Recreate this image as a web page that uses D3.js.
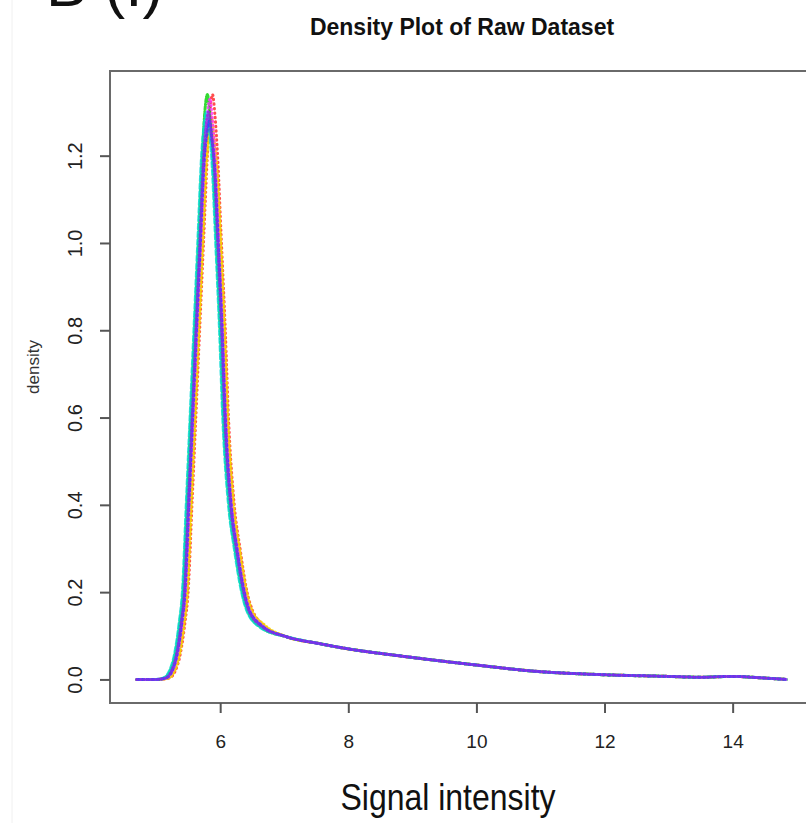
<!DOCTYPE html>
<html>
<head>
<meta charset="utf-8">
<script src="https://cdn.jsdelivr.net/npm/d3@7"></script>
<style>
  html, body { margin: 0; padding: 0; background: #fff; }
  svg { display: block; }
  text { font-family: "Liberation Sans", Arial, sans-serif; }
</style>
</head>
<body>
<svg id="chart" width="806" height="823"></svg>
<script>
// ---- data ----
const xTicks = [6, 8, 10, 12, 14];
const yTicks = [0.0, 0.2, 0.4, 0.6, 0.8, 1.0, 1.2];
const yTickLabels = ["0.0", "0.2", "0.4", "0.6", "0.8", "1.0", "1.2"];

const seriesNames = ["s1", "s2", "s3", "s4", "s5", "s6", "s7", "s8"];
const seriesColors = ["#ff2020", "#ff9900", "#f2e000", "#00d000", "#00d8d8", "#ff30ff", "#2040ff", "#8a2be2"];
const seriesDash = ["0.5,4", "3,3", "0.5,3", "3,2,0.5,2", "5,3", "0.5,3.5", "2,3", "0.5,3"];

// shared start (flat left base)
const headX = [4.70, 5.00];
const headY = [0.000, 0.000];
// shared tail (long right tail)
const tailX = [7.03, 7.55, 8.00, 8.80, 9.58, 10.00, 10.89, 11.94, 12.98, 13.50, 14.00, 14.40, 14.84];
const tailY = [0.098, 0.082, 0.070, 0.054, 0.040, 0.033, 0.019, 0.011, 0.007, 0.005, 0.007, 0.004, 0.000];

// peak region, one array per series
const peakX = [
  [5.20,5.30,5.38,5.45,5.50,5.56,5.62,5.68,5.74,5.80,5.84,5.88,5.92,5.96,6.02,6.08,6.13,6.22,6.31,6.42,6.50,6.70],
  [5.18,5.28,5.36,5.43,5.48,5.54,5.60,5.66,5.72,5.78,5.82,5.86,5.90,5.94,6.00,6.06,6.11,6.20,6.29,6.40,6.48,6.69],
  [5.19,5.29,5.37,5.44,5.49,5.55,5.61,5.67,5.73,5.79,5.83,5.87,5.91,5.95,6.01,6.07,6.12,6.21,6.30,6.415,6.49,6.70],
  [5.12,5.22,5.30,5.37,5.42,5.48,5.54,5.60,5.66,5.72,5.76,5.80,5.84,5.88,5.94,6.00,6.05,6.14,6.23,6.345,6.42,6.63],
  [5.11,5.21,5.29,5.36,5.41,5.47,5.53,5.59,5.65,5.71,5.75,5.79,5.83,5.87,5.93,5.99,6.04,6.13,6.22,6.335,6.41,6.62],
  [5.16,5.26,5.34,5.41,5.46,5.52,5.58,5.64,5.70,5.76,5.80,5.84,5.88,5.92,5.98,6.04,6.09,6.18,6.27,6.385,6.46,6.67],
  [5.15,5.25,5.33,5.40,5.45,5.51,5.57,5.63,5.69,5.75,5.79,5.83,5.87,5.91,5.97,6.03,6.08,6.17,6.26,6.375,6.45,6.66],
  [5.14,5.24,5.32,5.39,5.44,5.50,5.56,5.62,5.68,5.74,5.78,5.82,5.86,5.90,5.96,6.02,6.07,6.16,6.25,6.365,6.44,6.65]
];
const peakY = [
  [0.003,0.020,0.060,0.130,0.200,0.400,0.600,0.800,1.000,1.200,1.30,1.34,1.29,1.200,1.000,0.800,0.600,0.400,0.300,0.200,0.160,0.122],
  [0.003,0.020,0.060,0.130,0.200,0.400,0.600,0.800,1.000,1.200,1.27,1.29,1.24,1.180,1.000,0.800,0.600,0.400,0.300,0.200,0.160,0.122],
  [0.003,0.020,0.060,0.130,0.200,0.400,0.600,0.800,1.000,1.190,1.24,1.27,1.22,1.170,1.000,0.800,0.600,0.400,0.300,0.200,0.160,0.124],
  [0.003,0.020,0.060,0.130,0.200,0.400,0.600,0.800,1.000,1.200,1.30,1.34,1.29,1.200,1.000,0.800,0.600,0.400,0.300,0.200,0.160,0.120],
  [0.003,0.020,0.060,0.130,0.200,0.400,0.600,0.800,1.000,1.200,1.27,1.30,1.26,1.190,1.000,0.800,0.600,0.400,0.300,0.200,0.160,0.120],
  [0.003,0.020,0.060,0.130,0.200,0.400,0.600,0.800,1.000,1.200,1.29,1.33,1.28,1.200,1.000,0.800,0.600,0.400,0.300,0.200,0.160,0.122],
  [0.003,0.020,0.060,0.130,0.200,0.400,0.600,0.800,1.000,1.190,1.25,1.28,1.24,1.180,1.000,0.800,0.600,0.400,0.300,0.200,0.160,0.122],
  [0.003,0.020,0.060,0.130,0.200,0.400,0.600,0.800,1.000,1.200,1.27,1.30,1.25,1.190,1.000,0.800,0.600,0.400,0.300,0.200,0.160,0.121]
];

// ---- layout ----
const svg = d3.select("#chart");
const box = { left: 110, top: 71, right: 814, bottom: 703 };

const x = d3.scaleLinear().domain([4.28, 15.27]).range([box.left, box.right]);
const y = d3.scaleLinear().domain([-0.054, 1.394]).range([box.bottom, box.top]);

// faint left border of the screenshot
svg.append("line").attr("x1", 12).attr("x2", 12).attr("y1", 0).attr("y2", 823)
  .attr("stroke", "#f0f0f0").attr("stroke-width", 1);

// panel label (cut by the top edge, as in the original)
svg.append("text").attr("x", 46).attr("y", 6)
  .attr("font-size", 62).attr("fill", "#111").text("B (I)");

// title
svg.append("text").attr("x", 462).attr("y", 35).attr("text-anchor", "middle")
  .attr("font-size", 23).attr("font-weight", "bold").attr("fill", "#111")
  .text("Density Plot of Raw Dataset");

// curves
const line = d3.line().x(d => x(d[0])).y(d => y(d[1])).curve(d3.curveMonotoneX);
const plot = svg.append("g");
seriesNames.forEach((name, i) => {
  const xs = headX.concat(peakX[i], tailX);
  const ys = headY.concat(peakY[i], tailY);
  const pts = xs.map((v, k) => [v, ys[k]]);
  plot.append("path").datum(pts)
    .attr("d", line)
    .attr("fill", "none")
    .attr("stroke", seriesColors[i])
    .attr("stroke-width", 3)
    .attr("stroke-linecap", "round")
    .attr("stroke-dasharray", seriesDash[i])
    .attr("opacity", 0.8);
});

// box
svg.append("rect").attr("x", box.left).attr("y", box.top)
  .attr("width", box.right - box.left).attr("height", box.bottom - box.top)
  .attr("fill", "none").attr("stroke", "#6a6a6a").attr("stroke-width", 2);

// x axis
const xAxis = d3.axisBottom(x).tickValues(xTicks).tickSize(10).tickPadding(22).tickFormat(d3.format("d"));
const gx = svg.append("g").attr("transform", `translate(0,${box.bottom})`).call(xAxis);
gx.select(".domain").remove();
gx.selectAll(".tick line").attr("stroke", "#555").attr("stroke-width", 2);
gx.selectAll(".tick text").attr("font-size", 19).attr("fill", "#222")
  .attr("font-family", "Liberation Sans, Arial, sans-serif");

// y axis
const yAxis = d3.axisLeft(y).tickValues(yTicks).tickSize(10)
  .tickFormat((d, i) => yTickLabels[i]);
const gy = svg.append("g").attr("transform", `translate(${box.left},0)`).call(yAxis);
gy.select(".domain").remove();
gy.selectAll(".tick line").attr("stroke", "#555").attr("stroke-width", 2);
gy.selectAll(".tick text")
  .attr("font-size", 20).attr("fill", "#222")
  .attr("font-family", "Liberation Sans, Arial, sans-serif")
  .attr("text-anchor", "middle")
  .attr("x", null).attr("dy", null)
  .attr("transform", "translate(-28,0) rotate(-90)")
  .attr("y", 0);

// y label
svg.append("text").attr("transform", "translate(39,367) rotate(-90)")
  .attr("text-anchor", "middle").attr("font-size", 17).attr("fill", "#333")
  .text("density");

// x label
svg.append("text").attr("x", 448).attr("y", 810).attr("text-anchor", "middle")
  .attr("font-size", 37).attr("fill", "#111")
  .attr("textLength", 215).attr("lengthAdjust", "spacingAndGlyphs")
  .text("Signal intensity");
</script>
</body>
</html>
